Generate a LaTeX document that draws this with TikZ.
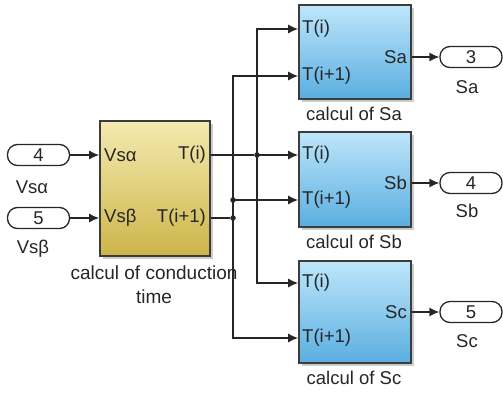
\documentclass[tikz,border=0pt]{standalone}
\usepackage{fontspec}
\setmainfont{Liberation Sans}
\usetikzlibrary{arrows.meta}
\definecolor{ytop}{HTML}{F4EAB0}
\definecolor{ybot}{HTML}{CDB54A}
\definecolor{btop}{HTML}{BEE6FB}
\definecolor{bbot}{HTML}{5AAEE0}
\definecolor{ink}{HTML}{262626}
\begin{document}
\begin{tikzpicture}[x=1pt,y=-1pt,
  lbl/.style={font=\fontsize{18.5}{18.5}\selectfont, text=ink, inner sep=0pt},
  wire/.style={draw=ink, line width=1.4pt},
  sig/.style={wire, -{Latex[length=10pt,width=9pt]}},
  dot/.style={circle, fill=ink, inner sep=0pt, minimum size=5.5pt},
  port/.style={lbl, draw=ink, line width=1.3pt, rounded corners=10pt,
    minimum width=62pt, minimum height=21pt, fill=white},
  blk/.style={draw=ink!90, line width=1.6pt, inner sep=0pt},
  yblk/.style={blk, top color=ytop, bottom color=ybot},
  bblk/.style={blk, top color=btop, bottom color=bbot},
]
\useasboundingbox (0,0) rectangle (503,394);

% block shadows
\foreach \l/\t/\r/\b in {100/121/210/256, 299/5/411/99, 299/132/411/227, 299/261/411/363}
  \fill[black!20] (\l+2.5,\t+2.5) rectangle (\r+2.5,\b+2.5);

% conduction-time block
\node[yblk, minimum width=110pt, minimum height=135pt] (ct) at (155,188.5) {};
\node[lbl, anchor=west] (ct-a) at (104,155) {Vsα};
\node[lbl, anchor=west] (ct-b) at (104,218) {Vsβ};
\node[lbl, anchor=east] (ct-ti) at (206,155) {T(i)};
\node[lbl, anchor=east] (ct-ti1) at (206,218) {T(i+1)};
\node[lbl, align=center, font=\fontsize{19}{24}\selectfont] (ct-cap) at (154,285) {calcul of conduction\\time};

% switching-state blocks
\foreach \n/\t/\b/\yi/\yii/\yo/\s in {sa/5/99/29/76/57/Sa, sb/132/227/155/200/183/Sb, sc/261/363/283/338/312/Sc}{
  \node[bblk, minimum width=112pt, minimum height=\b-\t] (\n) at (355,{(\t+\b)/2}) {};
  \node[lbl, anchor=west] (\n-ti) at (302,\yi) {T(i)};
  \node[lbl, anchor=west] (\n-ti1) at (302,\yii) {T(i+1)};
  \node[lbl, anchor=east] (\n-o) at (407,\yo) {\s};
  \node[lbl] (\n-cap) at (354,\b+15) {calcul of \s};
}

% inports
\node[port] (p4) at (38.5,155) {4};
\node[port] (p5) at (38.5,218) {5};
\node[lbl] (p4-l) at (32,187) {Vsα};
\node[lbl] (p5-l) at (33,249) {Vsβ};

% outports
\node[port] (o3) at (471,57) {3};
\node[port] (o4) at (471,183) {4};
\node[port] (o5) at (471,312) {5};
\node[lbl] (o3-l) at (467,87) {Sa};
\node[lbl] (o4-l) at (467,211) {Sb};
\node[lbl] (o5-l) at (467,341) {Sc};

% input signals
\draw[sig] (p4) -- (ct.west |- p4);
\draw[sig] (p5) -- (ct.west |- p5);

% branch points
\node[dot] (j1) at (257,155) {};
\node[dot] (j2) at (233,218) {};
\node[dot] (j3) at (233,200) {};

% T(i) distribution
\draw[wire] (ct.east |- ct-ti) -- (j1);
\draw[sig] (j1.center) -- (sb.west |- sb-ti);
\draw[sig] (j1.center) |- (sa.west |- sa-ti);
\draw[sig] (j1.center) |- (sc.west |- sc-ti);

% T(i+1) distribution
\draw[wire] (ct.east |- ct-ti1) -- (j2);
\draw[wire] (j2.center) -- (j3.center);
\draw[sig] (j3.center) -- (sb.west |- sb-ti1);
\draw[sig] (j3.center) |- (sa.west |- sa-ti1);
\draw[sig] (j2.center) |- (sc.west |- sc-ti1);

% outputs
\draw[sig] (sa.east |- sa-o) -- (o3);
\draw[sig] (sb.east |- sb-o) -- (o4);
\draw[sig] (sc.east |- sc-o) -- (o5);
\end{tikzpicture}
\end{document}
